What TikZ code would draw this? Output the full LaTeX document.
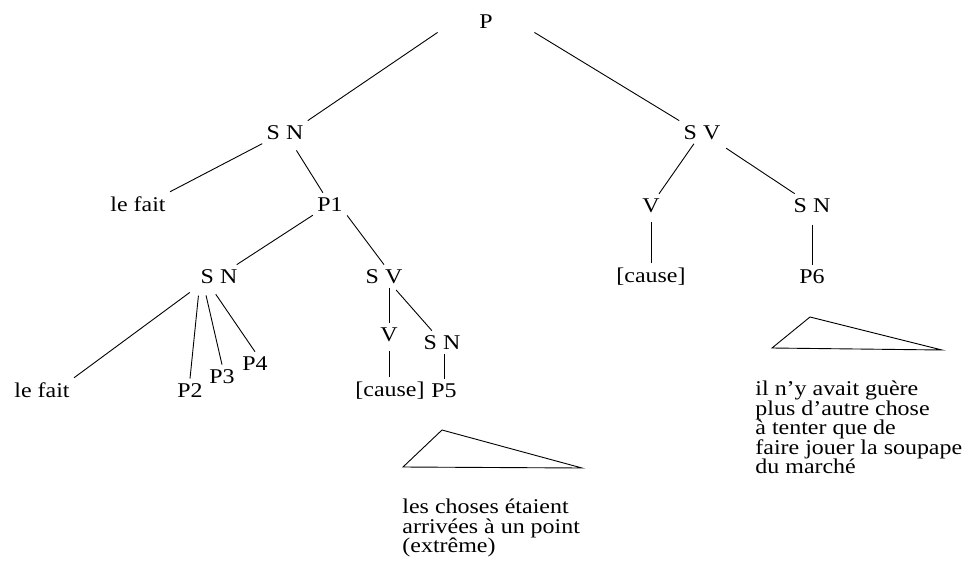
\documentclass[tikz,border=0pt]{standalone}
\usepackage{fontspec}
\setmainfont{Liberation Serif}[FakeStretch=1.14]
\usepackage{tikz}

\newcommand{\treefont}{\fontsize{21}{19.5}\selectfont}

\begin{document}
\begin{tikzpicture}[x=1pt,y=-1pt,line width=0.9pt,font=\treefont,
    tag/.style={anchor=base,inner sep=4pt},
    gloss/.style={anchor=north west,inner sep=0pt,align=left}]
    \useasboundingbox (0,0) rectangle (975,560);

    \node[tag,minimum width=96pt] (P) at (486,28) {P};
    \node[tag] (SNa) at (285,139) {S N};
    \node[tag] (SVa) at (702,139) {S V};
    \node[tag] (faita) at (138,211) {le fait};
    \node[tag] (P1) at (330,211) {P1};
    \node[tag] (Va) at (651,212) {V};
    \node[tag] (SNb) at (812,212) {S N};
    \node[tag] (SNc) at (219,283) {S N};
    \node[tag] (SVc) at (384,283) {S V};
    \node[tag] (causea) at (651,282) {[cause]};
    \node[tag] (P6) at (812,283) {P6};
    \node[tag] (Vd) at (389,341) {V};
    \node[tag] (SNd) at (442,349) {S N};
    \node[tag] (faitb) at (42,397) {le fait};
    \node[tag] (P2) at (190,397) {P2};
    \node[tag] (P3) at (222,383) {P3};
    \node[tag] (P4) at (255,370) {P4};
    \node[tag] (causeb) at (390,396) {[cause]};
    \node[tag] (P5) at (444,397) {P5};

    \draw (P.south west) -- (SNa.north east);
    \draw (P.south east) -- (SVa.north west);
    \draw (SNa.south west) -- (faita.north east);
    \draw[shorten <=8pt] (SNa) -- (P1);
    \draw (SVa) -- (Va);
    \draw[shorten <=8pt] (SVa) -- (SNb);
    \draw[shorten <=5pt] (Va) -- (Va |- causea.north);
    \draw[shorten <=8pt] (SNb) -- (P6);

    \draw (P1) -- (SNc);
    \draw (P1.south east) -- (SVc.north);
    \draw[shorten <=8pt] (SNc.south west) -- (faitb.north east);
    \draw[shorten <=8pt] ([xshift=3pt]SNc.south west) -- (P2.north);
    \draw[shorten <=8pt] ([xshift=8pt]SNc.south west) -- (P3.north);
    \draw[shorten <=8pt] ([xshift=15pt]SNc.south west) -- (P4.north);
    \draw (Vd |- SVc.south) -- (Vd);
    \draw[shorten <=3pt] (SVc) -- (SNd);
    \draw[shorten <=5pt] (Vd) -- (Vd |- causeb.north);
    \draw (P5 |- SNd.south) -- (P5);

    \draw (403,467) -- (442,430) -- (582,468) -- cycle;
    \draw (772,348) -- (810,317) -- (942,350) -- cycle;

    \node[gloss] (choses) at (402,498.5) {les choses étaient\\arrivées à un point\\(extrême)};
    \node[gloss] (soupape) at (755,380.5) {il n’y avait guère\\plus d’autre chose\\à tenter que de\\faire jouer la soupape\\du marché};
\end{tikzpicture}
\end{document}
